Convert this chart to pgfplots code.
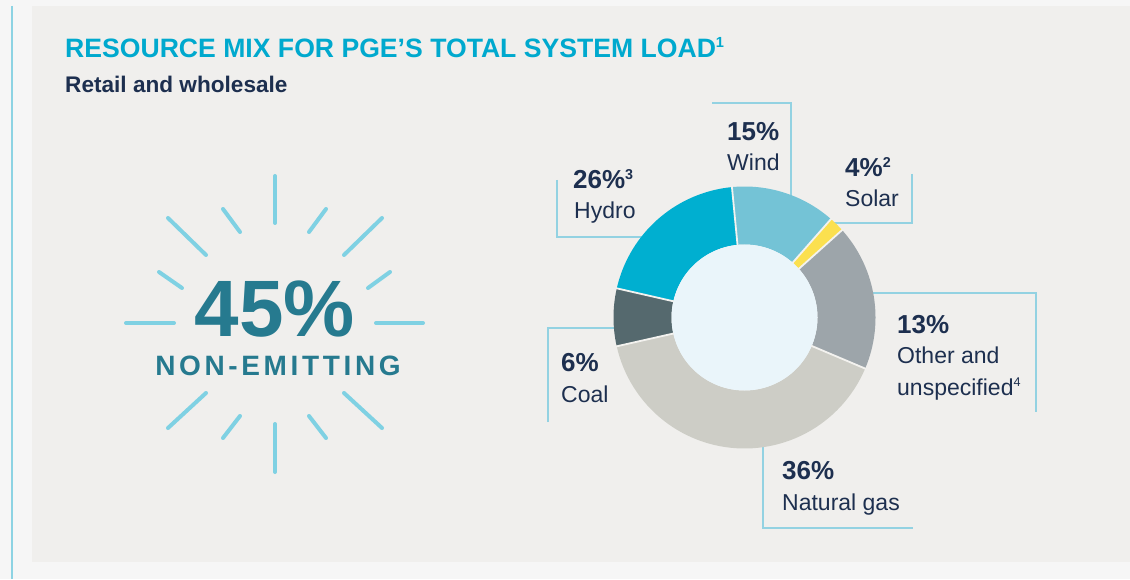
\documentclass[border=0pt]{standalone}
\usepackage{pgfplots}
\pgfplotsset{compat=1.18}
\usepackage{pgfplotstable}
\usepackage{graphicx}
\usepackage{fontspec}
\setmainfont{Liberation Sans}

\definecolor{outerC}{HTML}{F6F6F6}
\definecolor{panelC}{HTML}{F0EFED}
\definecolor{edgeC}{HTML}{8DD3E3}
\definecolor{titleC}{HTML}{00A9CE}
\definecolor{navyC}{HTML}{1D2F4F}
\definecolor{tealC}{HTML}{267A8F}
\definecolor{rayC}{HTML}{7FD1E3}
\definecolor{calloutC}{HTML}{93D2E2}
\definecolor{hydroC}{HTML}{00AFD0}
\definecolor{windC}{HTML}{74C3D6}
\definecolor{solarC}{HTML}{FBE04F}
\definecolor{otherC}{HTML}{9DA5AA}
\definecolor{gasC}{HTML}{CDCDC6}
\definecolor{coalC}{HTML}{55696E}
\definecolor{innerC}{HTML}{EAF5FA}
\definecolor{sepC}{HTML}{F3F2EF}

% share = drawn share of the ring, label = printed value
\pgfplotstableread{
source share label col
Wind   13.0 15 windC
Solar   1.9  4 solarC
Other  18.0 13 otherC
Gas    40.1 36 gasC
Coal    7.1  6 coalC
Hydro  19.9 26 hydroC
}\mixdata

\newcommand\supr[1]{\raisebox{0.36em}{\scalebox{0.55}{#1}}}

\begin{document}
\begin{tikzpicture}
\begin{axis}[
  scale only axis, width=1130pt, height=579pt,
  xmin=0, xmax=1130, ymin=0, ymax=579, y dir=reverse,
  hide axis, clip=false]

% backgrounds
\fill[outerC] (0,0) rectangle (1130,579);
\fill[panelC] (32,6) rectangle (1130,562);
\draw[edgeC, line width=2pt] (11.5,6) -- (11.5,579);

% titles
\node[anchor=base west, inner sep=0, text=titleC, font=\fontsize{26.6}{30}\selectfont\bfseries]
  at (65,57.5) {RESOURCE MIX FOR PGE’S TOTAL SYSTEM LOAD\supr{1}};
\node[anchor=base west, inner sep=0, text=navyC, font=\fontsize{22.6}{26}\selectfont\bfseries]
  at (65,92.5) {Retail and wholesale};

% sunburst rays
\begin{scope}[rayC, line width=4pt, line cap=round]
\draw (275,176) -- (275,223);
\draw (275,424) -- (275,472);
\draw (126,323) -- (174,323);
\draw (376,323) -- (423,323);
\draw (168,218) -- (206,255);
\draw (382,218) -- (344,255);
\draw (168,428) -- (206,393);
\draw (382,428) -- (344,393);
\draw (223,209) -- (240,232);
\draw (326,209) -- (309,232);
\draw (223,438) -- (240,416);
\draw (326,438) -- (309,416);
\draw (159,272) -- (182,288);
\draw (390,272) -- (368,288);
\end{scope}

\node[anchor=base, inner sep=0, text=tealC, font=\fontsize{80}{90}\selectfont\bfseries]
  at (275,336) {45\%};
\node[anchor=base, inner sep=0, text=tealC, font=\fontsize{28}{32}\selectfont\bfseries\addfontfeature{LetterSpace=13}]
  at (278,375) {NON-EMITTING};

% callout lines
\begin{scope}[calloutC, line width=1.5pt]
\draw (557,180) -- (557,237) -- (645,237);
\draw (712,103) -- (791,103) -- (791,200);
\draw (912,174) -- (912,223) -- (830,223);
\draw (868,293) -- (1036,293) -- (1036,412);
\draw (763,442) -- (763,528) -- (913,528);
\draw (548,422) -- (548,328) -- (618,328);
\end{scope}

% donut ring from the table
\def\curang{95.5}
\pgfplotsforeachungrouped \i in {0,...,5}{%
  \pgfplotstablegetelem{\i}{share}\of\mixdata \let\sh\pgfplotsretval
  \pgfplotstablegetelem{\i}{col}\of\mixdata \let\cl\pgfplotsretval
  \pgfmathsetmacro\endang{\curang-3.6*\sh}%
  \edef\doplot{\noexpand\addplot[draw=\cl, line width=58pt, line cap=butt, domain=\endang:\curang, samples=60, forget plot] ({744.5+102*cos(x)},{317.5-102*sin(x)});}%
  \doplot
  \global\let\curang\endang
}
\addplot[fill=innerC, draw=none, domain=0:360, samples=121, forget plot]
  ({744.5+73*cos(x)},{317.5-73*sin(x)});
\def\curang{95.5}
\pgfplotsforeachungrouped \i in {0,...,5}{%
  \pgfplotstablegetelem{\i}{share}\of\mixdata \let\sh\pgfplotsretval
  \edef\doplot{\noexpand\addplot[draw=sepC, line width=1.8pt, domain=72.5:132, samples=2, forget plot] ({744.5+x*cos(\curang)},{317.5-x*sin(\curang)});}%
  \doplot
  \pgfmathsetmacro\endang{\curang-3.6*\sh}%
  \global\let\curang\endang
}

% labels
\tikzset{num/.style={anchor=base west, inner sep=0, text=navyC, font=\fontsize{26}{30}\selectfont\bfseries},
         lab/.style={anchor=base west, inner sep=0, text=navyC, font=\fontsize{23}{27}\selectfont}}
\node[num] at (573,189) {26\%\supr{3}};
\node[lab] at (574,219) {Hydro};
\node[num] at (727,141) {15\%};
\node[lab] at (727,171) {Wind};
\node[num] at (845,177) {4\%\supr{2}};
\node[lab] at (845,207) {Solar};
\node[num] at (897,333) {13\%};
\node[lab] at (897,363) {Other and};
\node[lab] at (897,395) {unspecified\supr{4}};
\node[num] at (782,479) {36\%};
\node[lab] at (782,510) {Natural gas};
\node[num] at (561,371) {6\%};
\node[lab] at (561,402) {Coal};
\end{axis}
\end{tikzpicture}
\end{document}
